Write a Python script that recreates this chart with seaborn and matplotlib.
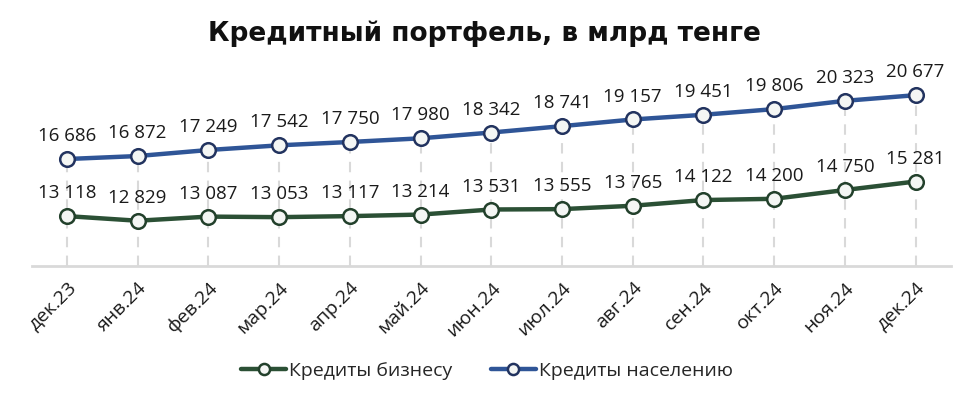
import matplotlib
matplotlib.use("Agg")
import matplotlib.pyplot as plt
import seaborn as sns
import pandas as pd
from matplotlib.lines import Line2D

months = ["дек.23", "янв.24", "фев.24", "мар.24", "апр.24", "май.24", "июн.24",
          "июл.24", "авг.24", "сен.24", "окт.24", "ноя.24", "дек.24"]
business = [13118, 12829, 13087, 13053, 13117, 13214, 13531, 13555, 13765, 14122, 14200, 14750, 15281]
population = [16686, 16872, 17249, 17542, 17750, 17980, 18342, 18741, 19157, 19451, 19806, 20323, 20677]
series_names = ["Кредиты бизнесу", "Кредиты населению"]
title = "Кредитный портфель, в млрд тенге"

sns.set_theme(style="white")
plt.rcParams["font.family"] = ["Open Sans", "DejaVu Sans"]

df = pd.DataFrame({
    "x": list(range(len(months))) * 2,
    "value": business + population,
    "series": [series_names[0]] * len(months) + [series_names[1]] * len(months),
})

colors = {series_names[0]: "#2B5035", series_names[1]: "#2F5597"}
edge = {series_names[0]: "#22402B", series_names[1]: "#22335F"}

fig = plt.figure(figsize=(9.74, 4.0), dpi=100)
ax = fig.add_axes([0.0324, 0.335, 0.944, 0.48])

xs = list(range(len(months)))
ax.vlines(xs, 10000, population, colors="#d9d9d9", linestyles=(0, (5, 4)), linewidth=1.5, zorder=1)

sns.lineplot(data=df, x="x", y="value", hue="series", palette=colors, ax=ax,
             linewidth=3.2, legend=False, zorder=3)
for name, vals in zip(series_names, [business, population]):
    ax.plot(xs, vals, linestyle="none", marker="o", markersize=10.5,
            markerfacecolor="#f4f6f4", markeredgecolor=edge[name], markeredgewidth=1.8, zorder=4)
    for x, v in zip(xs, vals):
        ax.annotate(f"{v:,}".replace(",", " "), (x, v), xytext=(0, 10), textcoords="offset points",
                    ha="center", va="bottom", fontsize=13.5, color="#1a1a1a")

ax.set_xlim(-0.5, len(months) - 0.5)
ax.set_ylim(10000, 22000)
ax.set_xticks(xs)
ax.set_xticklabels(months, rotation=45, ha="right", rotation_mode="anchor", fontsize=14, color="#1a1a1a")
ax.tick_params(axis="x", length=0, pad=9)
ax.set_yticks([])
ax.set_xlabel("")
ax.set_ylabel("")
for s in ["top", "left", "right"]:
    ax.spines[s].set_visible(False)
ax.spines["bottom"].set_color("#d9d9d9")
ax.spines["bottom"].set_linewidth(2)

handles = [Line2D([0], [0], color=colors[n], linewidth=3.2, marker="o", markersize=8,
                  markerfacecolor="#f4f6f4", markeredgecolor=edge[n], markeredgewidth=1.8)
           for n in series_names]
fig.legend(handles, series_names, loc="center", bbox_to_anchor=(0.5, 0.072), ncol=2, frameon=False,
           fontsize=14, handlelength=2.3, handletextpad=0.15, columnspacing=2.0)

fig.text(0.497, 0.915, title, ha="center", va="center", fontsize=19, fontweight="bold",
         color="#111111", family=["DejaVu Sans"])

fig.savefig("out.png", dpi=100)
